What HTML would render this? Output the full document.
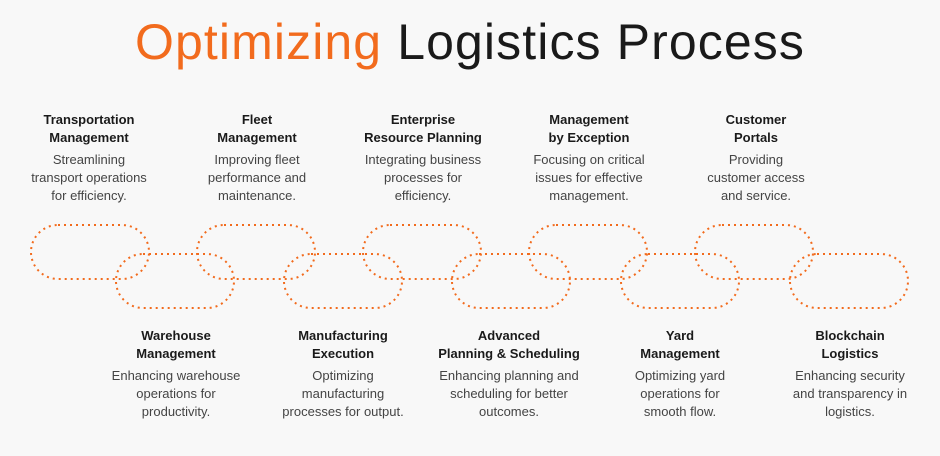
<!DOCTYPE html>
<html><head><style>
body{margin:0;width:940px;height:456px;background:#f8f8f8;font-family:"Liberation Sans",sans-serif;position:relative;overflow:hidden}
h1{position:absolute;top:13px;left:0;width:940px;text-align:center;margin:0;font-weight:400;font-size:50px;color:#1a1a1a;letter-spacing:1.1px}
h1 span{color:#f26b1d}
.b{position:absolute;width:180px;margin-left:-90px;text-align:center;line-height:18px;color:#1a1a1a}
.t{font-size:13px;font-weight:600;}
.d{font-size:13px;color:#444;margin-top:4px}
svg{position:absolute;left:0;top:0}
</style></head><body>
<h1><span>Optimizing</span> Logistics Process</h1>
<svg width="940" height="456"><g fill="none" stroke="#f26b1d" stroke-width="2" stroke-dasharray="2 4">
<rect x="31" y="225" width="118" height="54" rx="27"/>
<rect x="197" y="225" width="118" height="54" rx="27"/>
<rect x="363" y="225" width="118" height="54" rx="27"/>
<rect x="529" y="225" width="118" height="54" rx="27"/>
<rect x="695" y="225" width="118" height="54" rx="27"/>
<rect x="116" y="254" width="118" height="54" rx="27"/>
<rect x="284" y="254" width="118" height="54" rx="27"/>
<rect x="452" y="254" width="118" height="54" rx="27"/>
<rect x="621" y="254" width="118" height="54" rx="27"/>
<rect x="790" y="254" width="118" height="54" rx="27"/>
</g></svg>
<div class="b" style="left:89px;top:111px"><div class="t">Transportation<br>Management</div><div class="d">Streamlining<br>transport operations<br>for efficiency.</div></div>
<div class="b" style="left:257px;top:111px"><div class="t">Fleet<br>Management</div><div class="d">Improving fleet<br>performance and<br>maintenance.</div></div>
<div class="b" style="left:423px;top:111px"><div class="t">Enterprise<br>Resource Planning</div><div class="d">Integrating business<br>processes for<br>efficiency.</div></div>
<div class="b" style="left:589px;top:111px"><div class="t">Management<br>by Exception</div><div class="d">Focusing on critical<br>issues for effective<br>management.</div></div>
<div class="b" style="left:756px;top:111px"><div class="t">Customer<br>Portals</div><div class="d">Providing<br>customer access<br>and service.</div></div>
<div class="b" style="left:176px;top:327px"><div class="t">Warehouse<br>Management</div><div class="d">Enhancing warehouse<br>operations for<br>productivity.</div></div>
<div class="b" style="left:343px;top:327px"><div class="t">Manufacturing<br>Execution</div><div class="d">Optimizing<br>manufacturing<br>processes for output.</div></div>
<div class="b" style="left:509px;top:327px"><div class="t">Advanced<br>Planning &amp; Scheduling</div><div class="d">Enhancing planning and<br>scheduling for better<br>outcomes.</div></div>
<div class="b" style="left:680px;top:327px"><div class="t">Yard<br>Management</div><div class="d">Optimizing yard<br>operations for<br>smooth flow.</div></div>
<div class="b" style="left:850px;top:327px"><div class="t">Blockchain<br>Logistics</div><div class="d">Enhancing security<br>and transparency in<br>logistics.</div></div>
</body></html>
